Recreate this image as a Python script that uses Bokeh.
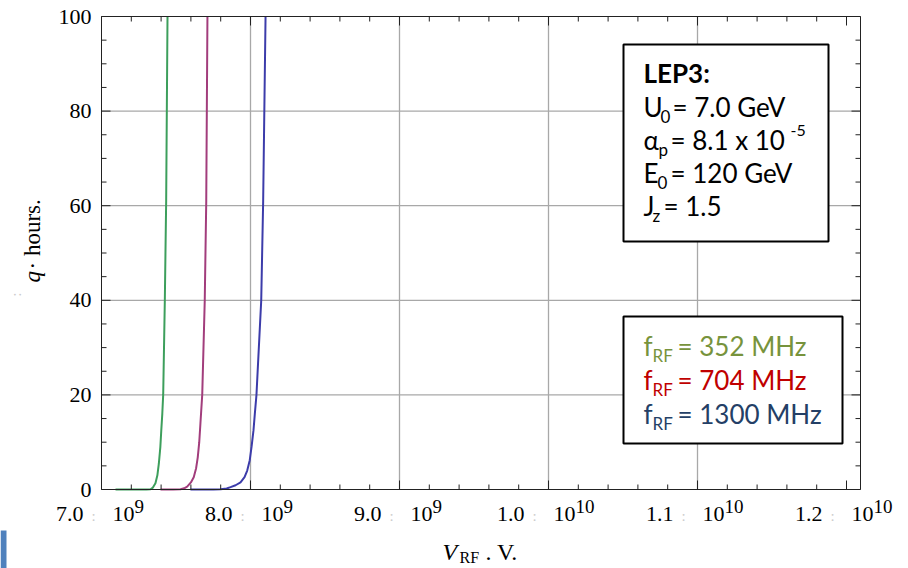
import math
from bokeh.plotting import figure
from bokeh.models import Range1d
from bokeh.core.properties import value
from bokeh.embed import file_html
from bokeh.resources import INLINE

# ---- data: quantum lifetime vs RF voltage (V in volts, tau_q in hours) ----
v_352 = [7.094e9, 7.200e9, 7.300e9, 7.329e9, 7.345e9, 7.362e9, 7.375e9, 7.385e9,
         7.395e9, 7.401e9, 7.408e9, 7.414e9, 7.425e9, 7.434e9, 7.443e9]
tau_352 = [0, 0, 0.02, 0.05, 0.4, 1.3, 3.0, 5.5, 9.0, 12.4, 16.0, 20, 40, 61, 100]

v_704 = [7.396e9, 7.480e9, 7.530e9, 7.555e9, 7.575e9, 7.600e9, 7.619e9, 7.635e9,
         7.646e9, 7.656e9, 7.664e9, 7.676e9, 7.693e9, 7.703e9, 7.711e9]
tau_704 = [0, 0, 0.05, 0.25, 0.6, 1.5, 2.6, 4.5, 6.8, 10, 14, 20, 40, 61, 100]

v_1300 = [7.597e9, 7.750e9, 7.800e9, 7.840e9, 7.866e9, 7.900e9, 7.933e9, 7.960e9,
          7.978e9, 7.995e9, 8.007e9, 8.020e9, 8.029e9, 8.040e9, 8.072e9, 8.085e9, 8.101e9]
tau_1300 = [0, 0, 0.05, 0.2, 0.5, 0.9, 1.5, 2.6, 4, 6.2, 9, 12.5, 16, 20, 40, 61, 100]

x_ticks = [7.0e9, 8.0e9, 9.0e9, 1.0e10, 1.1e10, 1.2e10]
x_mantissa = ["7.0", "8.0", "9.0", "1.0", "1.1", "1.2"]
x_exponent = ["9", "9", "9", "10", "10", "10"]
y_ticks = [0, 20, 40, 60, 80, 100]
x_min, y_min, y_max = 7.0e9, 0, 100

params = [("LEP3:", "", "", True),
          ("U", "0", "= 7.0 GeV", False),
          ("\u03b1", "p", "= 8.1 x 10", False),
          ("E", "0", "= 120 GeV", False),
          ("J", "z", "= 1.5", False)]
freq_labels = ["352 MHz", "704 MHz", "1300 MHz"]
freq_colors = ["#77933c", "#c00000", "#243f66"]
curve_colors = ["#3d9f5c", "#a23d7c", "#3c3caa"]

# ---- canvas geometry (pixels from the top-left corner) ----
W, H = 908, 568
FL, FR, FT, FB = 101, 860, 16, 489          # plot box edges
px_x = 149.0 / 1e9                          # pixels per volt
px_y = (FB - FT) / (y_max - y_min)          # pixels per hour
x_end = x_min + (FR - FL) / px_x
x0_canvas = x_min - FL / px_x
y0_canvas = y_min + FB / px_y
MID = 0.37                                  # baseline-to-middle distance, in em

p = figure(width=W, height=H, output_backend="svg", toolbar_location=None,
           x_range=Range1d(x0_canvas, x_min + (W - FL) / px_x),
           y_range=Range1d(y_min - (H - FB) / px_y, y0_canvas),
           min_border=0, x_axis_type=None, y_axis_type=None)
p.outline_line_color = None
p.background_fill_color = "white"
p.border_fill_color = "white"
p.xgrid.visible = False
p.ygrid.visible = False

GRID = "#a8a8a8"
INK = "#222222"
SERIF = "Liberation Serif"
SANS = "Lato"


def cx2x(cx):
    return x0_canvas + cx / px_x


def cy2y(cy):
    return y0_canvas - cy / px_y


# grid lines at interior major ticks
p.segment(x0=x_ticks[1:-1], x1=x_ticks[1:-1], y0=y_min, y1=y_max,
          line_color=GRID, line_width=1.3)
p.segment(x0=x_min, x1=x_end, y0=y_ticks[1:-1], y1=y_ticks[1:-1],
          line_color=GRID, line_width=1.3)

# curves
for vs, ts, c in [(v_352, tau_352, curve_colors[0]),
                  (v_704, tau_704, curve_colors[1]),
                  (v_1300, tau_1300, curve_colors[2])]:
    p.line(vs, ts, line_color=c, line_width=2)

# plot box with inward ticks on all four sides
p.quad(left=x_min, right=x_end, bottom=y_min, top=y_max,
       fill_color=None, line_color=INK, line_width=1)
x_minor = [x_min + i * 0.2e9 for i in range(26) if i % 5]
y_minor = [i * 5 for i in range(21) if i % 4]
for ticks, L in [(x_ticks, 9), (x_minor, 5)]:
    p.segment(x0=ticks, x1=ticks, y0=y_min, y1=y_min + L / px_y, line_color=INK)
    p.segment(x0=ticks, x1=ticks, y0=y_max, y1=y_max - L / px_y, line_color=INK)
for ticks, L in [(y_ticks, 9), (y_minor, 5)]:
    p.segment(x0=x_min, x1=x_min + L / px_x, y0=ticks, y1=ticks, line_color=INK)
    p.segment(x0=x_end, x1=x_end - L / px_x, y0=ticks, y1=ticks, line_color=INK)

# x tick labels "m × 10^e" (the × appears as a faint glyph)
for nd, sh in [(1, 0), (2, -6)]:
    idx = [i for i, e in enumerate(x_exponent) if len(e) == nd]
    common = dict(x=[x_ticks[i] for i in idx], y=[y_min] * len(idx),
                  text_baseline="middle", text_font=value(SERIF))
    p.text(text=[x_mantissa[i] for i in idx], x_offset=-18 + sh, y_offset=33 - MID * 22,
           text_align="right", text_font_size="22px", text_color="black", **common)
    p.text(text=[":"] * len(idx), x_offset=-8 + sh, y_offset=32 - MID * 15,
           text_align="center", text_font_size="15px", text_color="#cccccc", **common)
    p.text(text=["10"] * len(idx), x_offset=11 + sh, y_offset=33 - MID * 22,
           text_align="left", text_font_size="22px", text_color="black", **common)
    p.text(text=[x_exponent[i] for i in idx], x_offset=33 + sh, y_offset=24 - MID * 19,
           text_align="left", text_font_size="19px", text_color="black", **common)

# y tick labels
p.text(x=[x_min] * len(y_ticks), y=y_ticks, text=[str(t) for t in y_ticks],
       x_offset=-10, y_offset=0, text_align="right", text_baseline="middle",
       text_font=value(SERIF), text_font_size="22px", text_color="black")


def box(left, top, right, bottom, fill, line=None, width=2):
    p.quad(left=cx2x(left), right=cx2x(right), top=cy2y(top), bottom=cy2y(bottom),
           fill_color=fill, line_color=line, line_width=width)


def put(text, cx, cy, size, color="black", font=SERIF, style="normal",
        align="left", angle=0):
    # (cx, cy) is the start of the text's baseline
    dx = MID * size * math.sin(angle)
    dy = MID * size * math.cos(angle)
    p.text(x=[cx2x(cx - dx)], y=[cy2y(cy - dy)], text=[text], text_font=value(font),
           text_font_size=f"{size}px", text_font_style=style, text_color=color,
           text_align=align, text_baseline="middle", angle=angle)


# axis titles
put("V", 442, 560, 24, style="italic")
put("RF", 459, 563, 16)
put(". V.", 485, 560, 24)
put(":", 21, 296, 14, color="#cccccc", angle=math.pi / 2)
put("q", 41, 282, 23, style="italic", angle=math.pi / 2)
put("\u00b7 hours.", 41, 269, 23, angle=math.pi / 2)

# parameter box
box(623, 44, 828, 241, "white", "black")
base = [82, 116, 149, 182, 215]
sub_x = [0, 660, 658, 657, 652]
rest_x = [0, 672, 670, 670, 663]
for (main, sub, rest, bold), by, sxp, rxp in zip(params, base, sub_x, rest_x):
    put(main, 643, by, 26, font=SANS, style="bold" if bold else "normal")
    if sub:
        put(sub, sxp, by + 6, 17, font=SANS)
        put(rest, rxp, by, 26, font=SANS)
put("-5", 790, 136, 16, font=SANS)

# frequency legend box
box(623, 316, 842, 443, "white", "black")
for i, (lab, col) in enumerate(zip(freq_labels, freq_colors)):
    by = 355 + 34 * i
    put("f", 643, by, 26, color=col, font=SANS)
    put("RF", 652, by + 6, 17, color=col, font=SANS)
    put("= " + lab, 677, by, 26, color=col, font=SANS)

# slide-edge strip
box(0, 530, 6, 568, "#4f81bd", None, 0)

open("out.html", "w").write(file_html(p, INLINE))
